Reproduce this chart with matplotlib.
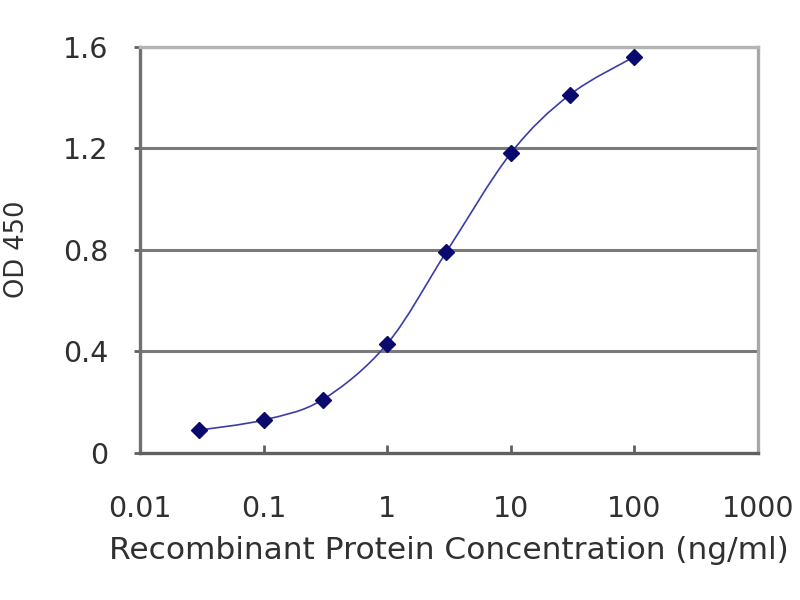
"""
ELISA standard curve: OD 450 vs recombinant protein concentration
"""

import numpy as np
import matplotlib
matplotlib.use('Agg')
import matplotlib.pyplot as plt
from matplotlib.path import Path
from matplotlib.patches import PathPatch
from matplotlib.ticker import FixedLocator, FixedFormatter, NullLocator

concentration = [0.03, 0.1, 0.3, 1, 3, 10, 30, 100]
od450 = [0.09, 0.13, 0.21, 0.43, 0.79, 1.18, 1.41, 1.56]

x_ticks = [0.01, 0.1, 1, 10, 100, 1000]
x_tick_labels = ['0.01', '0.1', '1', '10', '100', '1000']
y_ticks = [0, 0.4, 0.8, 1.2, 1.6]
y_tick_labels = ['0', '0.4', '0.8', '1.2', '1.6']

LINE_COLOR = '#3c3ca8'
MARKER_COLOR = '#0a0a6e'
GRID_COLOR = '#7a7a7a'
TEXT_COLOR = '#303030'


def smooth_path(xs, ys):
    """Excel-like smoothed line: cubic bezier through the points, in log-x space."""
    lx = np.log10(xs)
    ly = np.asarray(ys, dtype=float)
    pts = np.column_stack([lx, ly])
    n = len(pts)
    verts = [pts[0]]
    codes = [Path.MOVETO]
    for i in range(n - 1):
        p_prev = pts[i - 1] if i > 0 else pts[i]
        p_next2 = pts[i + 2] if i + 2 < n else pts[i + 1]
        c1 = pts[i] + (pts[i + 1] - p_prev) / 6.0
        c2 = pts[i + 1] - (p_next2 - pts[i]) / 6.0
        verts += [c1, c2, pts[i + 1]]
        codes += [Path.CURVE4] * 3
    verts = np.array(verts)
    verts[:, 0] = 10 ** verts[:, 0]
    return Path(verts, codes)


fig = plt.figure(figsize=(8, 6), dpi=100, facecolor='white')
ax = fig.add_axes([0.175, 0.245, 0.7725, 0.6775])

ax.set_xscale('log')
ax.set_xlim(0.01, 1000)
ax.set_ylim(0, 1.6)

for y in y_ticks[1:]:
    ax.axhline(y, color=GRID_COLOR if y < 1.6 else '#b4b4b4', lw=2.2, zorder=1)

patch = PathPatch(smooth_path(concentration, od450), facecolor='none',
                  edgecolor=LINE_COLOR, lw=1.2, zorder=3)
ax.add_patch(patch)
ax.plot(concentration, od450, linestyle='none', marker='D', markersize=8.5,
        color=MARKER_COLOR, zorder=4)

ax.xaxis.set_major_locator(FixedLocator(x_ticks))
ax.xaxis.set_major_formatter(FixedFormatter(x_tick_labels))
ax.xaxis.set_minor_locator(NullLocator())
ax.yaxis.set_major_locator(FixedLocator(y_ticks))
ax.yaxis.set_major_formatter(FixedFormatter(y_tick_labels))

font = {'family': 'DejaVu Sans', 'color': TEXT_COLOR}
for lab in ax.get_xticklabels() + ax.get_yticklabels():
    lab.set_fontfamily('DejaVu Sans')
    lab.set_fontsize(20.5)
    lab.set_color(TEXT_COLOR)

ax.tick_params(axis='x', direction='in', length=6, width=2, color='#606060', pad=30)
ax.tick_params(axis='y', direction='out', length=4, width=2, color='#606060', pad=18.5)

ax.spines['left'].set_color('#707070')
ax.spines['bottom'].set_color('#606060')
ax.spines['top'].set_color('#b4b4b4')
ax.spines['right'].set_color('#a8a8a8')
for side in ax.spines:
    ax.spines[side].set_linewidth(2.4)

ax.set_xlabel('Recombinant Protein Concentration (ng/ml)', fontdict=font,
              fontsize=22.5)
ax.set_ylabel('OD 450', fontdict=font, fontsize=18.5)
ax.xaxis.set_label_coords(0.5, -0.203)
ax.yaxis.set_label_coords(-0.178, 0.5)

fig.savefig('out.png', dpi=100, facecolor='white')
